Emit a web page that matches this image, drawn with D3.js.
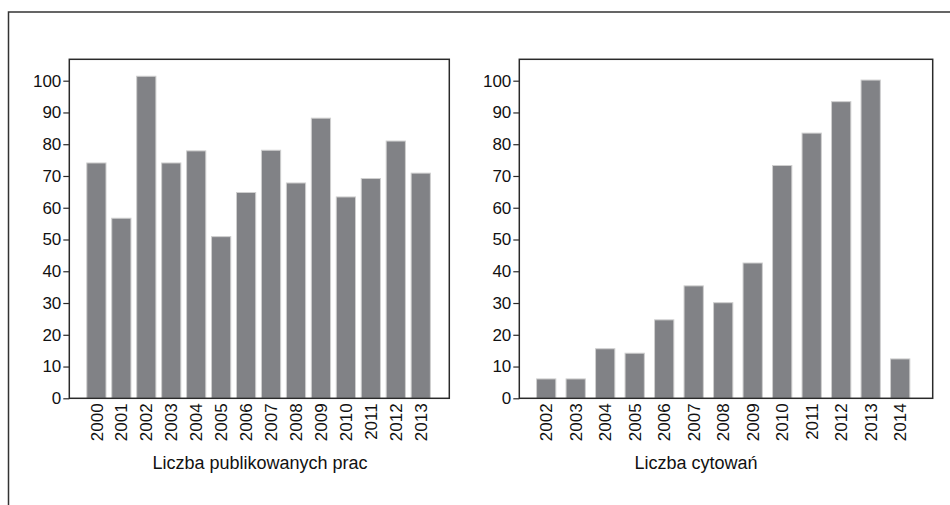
<!DOCTYPE html>
<html>
<head>
<meta charset="utf-8">
<script src="https://cdn.jsdelivr.net/npm/d3@7"></script>
<style>
  html, body { margin: 0; padding: 0; background: #fff; }
  svg { display: block; font-family: "Liberation Sans", Arial, sans-serif; }
</style>
</head>
<body>
<svg id="chart" width="950" height="505"></svg>
<script>
// ---- data ----
const pubYears = ["2000","2001","2002","2003","2004","2005","2006","2007","2008","2009","2010","2011","2012","2013"];
const pubValues = [74.1, 56.7, 101.4, 74.1, 77.9, 50.9, 64.8, 78.1, 67.8, 88.2, 63.4, 69.2, 81.0, 70.9];
const citYears = ["2002","2003","2004","2005","2006","2007","2008","2009","2010","2011","2012","2013","2014"];
const citValues = [6.1, 6.1, 15.6, 14.2, 24.7, 35.4, 30.1, 42.6, 73.3, 83.5, 93.4, 100.2, 12.4];
const yTicks = [0, 10, 20, 30, 40, 50, 60, 70, 80, 90, 100];
const titles = ["Liczba publikowanych prac", "Liczba cytowań"];

const svg = d3.select("#chart");

// outer frame (top and left lines)
svg.append("path")
  .attr("d", "M8.5,505 L8.5,12 L950,12")
  .attr("fill", "none")
  .attr("stroke", "#333")
  .attr("stroke-width", 1.5);

function panel(cfg) {
  const { years, values, x0, x1, pi, po, align, title, titleX } = cfg;
  const yTop = 59.3, yBase = 398.3;
  const y = d3.scaleLinear().domain([0, 100]).range([yBase, 80.7]);
  const x = d3.scaleBand().domain(years).range([x0, x1])
    .paddingInner(pi).paddingOuter(po).align(align);

  const g = svg.append("g");

  // bars
  g.selectAll("rect.bar").data(years).enter().append("rect")
    .attr("class", "bar")
    .attr("x", d => x(d))
    .attr("width", x.bandwidth())
    .attr("y", (d, i) => y(values[i]))
    .attr("height", (d, i) => yBase - y(values[i]))
    .attr("fill", "#818286")
    .attr("stroke", "#cfcfcf")
    .attr("stroke-width", 1);

  // frame
  g.append("rect")
    .attr("x", x0).attr("y", yTop)
    .attr("width", x1 - x0).attr("height", yBase - yTop)
    .attr("fill", "none")
    .attr("stroke", "#2a2a2a")
    .attr("stroke-width", 1.5);

  // y axis
  const ya = g.append("g")
    .attr("transform", `translate(${x0},0)`)
    .call(d3.axisLeft(y).tickValues(yTicks).tickSize(6).tickSizeOuter(0).tickPadding(2));
  ya.select(".domain").remove();
  ya.selectAll(".tick line").attr("stroke", "#2a2a2a").attr("stroke-width", 1.2);
  ya.selectAll(".tick text")
    .attr("fill", "#111")
    .style("font-size", "17px")
    .style("font-family", "'Liberation Sans', Arial, sans-serif");

  // x axis
  const xa = g.append("g")
    .attr("transform", `translate(0,${yBase})`)
    .call(d3.axisBottom(x).tickSize(0).tickSizeOuter(0));
  xa.select(".domain").remove();
  xa.selectAll(".tick text")
    .attr("transform", "rotate(-90)")
    .attr("x", -5)
    .attr("y", 0)
    .attr("dy", "0.36em")
    .style("text-anchor", "end")
    .attr("fill", "#111")
    .style("font-size", "17px")
    .style("font-family", "'Liberation Sans', Arial, sans-serif");

  // title
  g.append("text")
    .attr("x", titleX)
    .attr("y", 469.3)
    .attr("text-anchor", "middle")
    .attr("fill", "#111")
    .style("font-size", "18px")
    .text(title);
}

panel({ years: pubYears, values: pubValues, x0: 69.3, x1: 449.3, pi: 0.23, po: 0.73, align: 0.48, title: titles[0], titleX: 260 });
panel({ years: citYears, values: citValues, x0: 519.3, x1: 932.7, pi: 0.346, po: 0.68, align: 0.43, title: titles[1], titleX: 696 });
</script>
</body>
</html>
